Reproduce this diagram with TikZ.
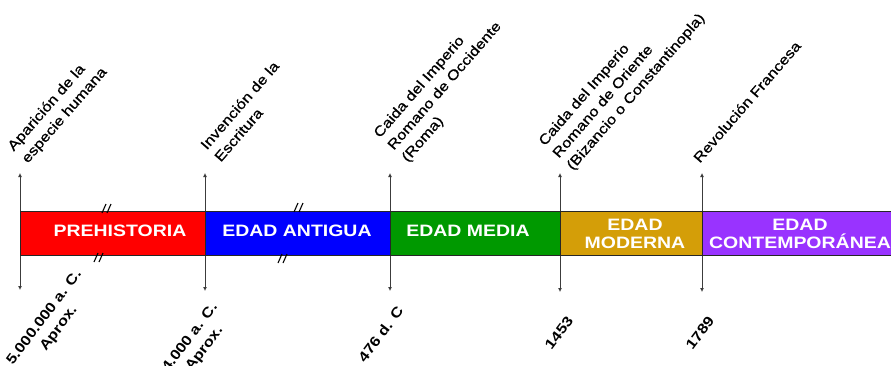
\documentclass[tikz,border=0pt]{standalone}
\usepackage{fontspec}
\setmainfont{Liberation Sans}
\newfontfamily\wf[FakeStretch=1.18]{Liberation Sans}
\newfontfamily\wfm[FakeStretch=1.18,FakeBold=0.8]{Liberation Sans}
\usetikzlibrary{arrows.meta}
\definecolor{cRed}{RGB}{255,0,0}
\definecolor{cBlue}{RGB}{0,0,255}
\definecolor{cGreen}{RGB}{0,153,0}
\definecolor{cGold}{RGB}{212,158,8}
\definecolor{cPurple}{RGB}{153,51,255}
\definecolor{cLine}{RGB}{60,60,60}
\begin{document}
\begin{tikzpicture}[x=1pt,y=-1pt,
  seg/.style={draw=black!85, line width=0.8pt, minimum height=44pt, inner sep=0pt, outer sep=0pt},
  tick/.style={draw=cLine, line width=0.9pt, {Latex[length=4pt,width=4pt]}-{Latex[length=4pt,width=4pt]}},
  toplbl/.style={rotate=49, anchor=south west, align=left, inner sep=0pt, font=\wfm\fontsize{14}{18.5}\selectfont},
  botlbl/.style={rotate=53, anchor=north east, align=center, inner sep=0pt, font=\wf\bfseries\fontsize{14}{18}\selectfont},
  barlbl/.style={text=white, align=center, inner sep=0pt, font=\wf\bfseries\fontsize{16.5}{18}\selectfont},
  brk/.style={draw=black, line width=1.1pt}]
\useasboundingbox (0,0) rectangle (891,365);
\fill[white] (0,0) rectangle (891,365);

% vertical markers
\coordinate (t1) at (20,173);  \coordinate (b1) at (20,290);
\coordinate (t2) at (205,173); \coordinate (b2) at (205,291);
\coordinate (t3) at (390,173); \coordinate (b3) at (390,291);
\coordinate (t4) at (560,173); \coordinate (b4) at (560,292);
\coordinate (t5) at (702,173); \coordinate (b5) at (702,292);
\foreach \i in {1,...,5} {\draw[tick] (b\i) -- (t\i);}

% bar segments
\node[seg, fill=cRed,    minimum width=185pt] (sPre) at (112.5,233) {};
\node[seg, fill=cBlue,   minimum width=185pt] (sAnt) at (297.5,233) {};
\node[seg, fill=cGreen,  minimum width=170pt] (sMed) at (475,233) {};
\node[seg, fill=cGold,   minimum width=142pt] (sMod) at (631,233) {};
\node[seg, fill=cPurple, minimum width=198pt] (sCon) at (801,233) {};

% bar labels
\node[barlbl] (nPre) at (120,231) {PREHISTORIA};
\node[barlbl] (nAnt) at (297,231) {EDAD ANTIGUA};
\node[barlbl] (nMed) at (468,231) {EDAD MEDIA};
\node[barlbl] (nMod) at (635,234) {EDAD\\MODERNA};
\node[barlbl] (nCon) at (800,234) {EDAD\\CONTEMPOR\'ANEA};

% break marks
\draw[brk] (102,213) -- (106,204) (107,213) -- (111,204);
\draw[brk] (94,262) -- (98,253) (99,262) -- (103,253);
\draw[brk] (294,212) -- (298,203) (299,212) -- (303,203);
\draw[brk] (278,263) -- (282,254) (283,263) -- (287,254);

% top labels
\node[toplbl] (e1) at (30,166) {Aparición de la\\especie humana};
\node[toplbl] (e2) at (221,163) {Invención de la\\Escritura};
\node[toplbl] (e3) at (410,165) {Caida del Imperio\\Romano de Occidente\\(Roma)};
\node[toplbl] (e4) at (575,173) {Caida del Imperio\\Romano de Oriente\\(Bizancio o Constantinopla)};
\node[toplbl] (e5) at (700,164) {Revolución Francesa};

% bottom labels
\node[botlbl] (d1) at (74,268) {5.000.000 a. C.\\Aprox.};
\node[botlbl] (d2) at (210,301) {4.000 a. C.\\Aprox.};
\node[botlbl] (d3) at (396,305) {476 d. C};
\node[botlbl] (d4) at (566,315) {1453};
\node[botlbl] (d5) at (707,315) {1789};
\end{tikzpicture}
\end{document}
